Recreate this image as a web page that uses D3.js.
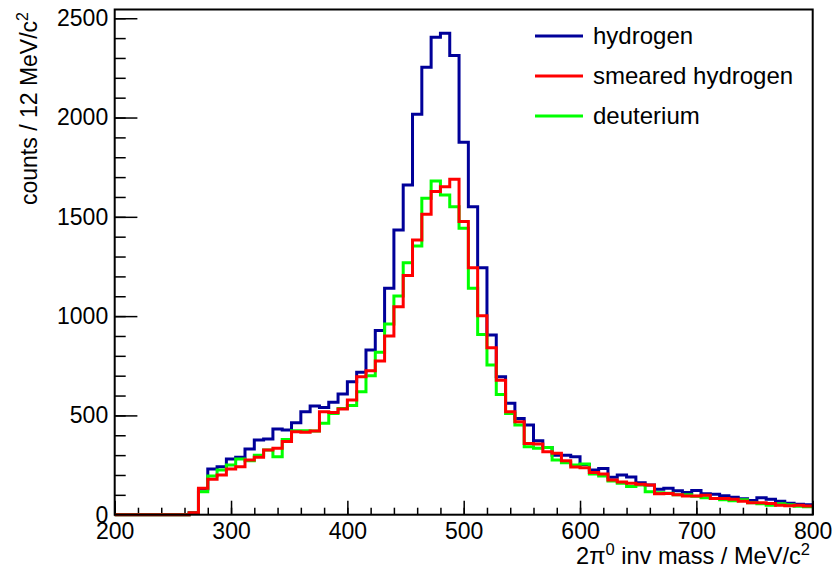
<!DOCTYPE html>
<html>
<head>
<meta charset="utf-8">
<script src="https://cdn.jsdelivr.net/npm/d3@7"></script>
<style>
  body { margin: 0; background: #fff; }
  svg { display: block; }
</style>
</head>
<body>
<svg width="835" height="572"></svg>
<script>
// bins: 8 MeV wide from 200 to 800
var binStart = 200, binEnd = 800, binWidth = 8;

var hydrogen = [0, 0, 0, 0, 0, 0, 0, 0,
    10, 130, 230, 242, 280, 289, 331, 376, 381, 431, 426, 463, 518, 548, 540, 566, 608, 670, 717, 829,
    927, 1140, 1434, 1660, 2016, 2253, 2404, 2424, 2312, 1875, 1551, 1244, 905, 695, 561, 485, 452, 373,
    339, 300, 300, 292, 253, 225, 233, 188, 200, 190, 161, 150, 128, 133, 120, 112, 122, 105, 103, 95,
    88, 80, 72, 85, 78, 68, 58, 52, 50];

var smeared = [0, 0, 0, 0, 0, 0, 0, 0,
    10, 133, 178, 200, 230, 242, 275, 289, 326, 334, 368, 418, 415, 421, 518, 515, 532, 578, 695, 725,
    774, 900, 1047, 1204, 1383, 1513, 1627, 1652, 1689, 1476, 1244, 1002, 841, 677, 519, 468, 359, 356,
    317, 309, 272, 240, 237, 212, 205, 175, 165, 158, 153, 150, 105, 107, 100, 94, 94, 98, 82, 82,
    78, 68, 60, 60, 57, 48, 45, 48, 44];

var deuterium = [0, 0, 0, 0, 0, 0, 0, 0,
    8, 116, 195, 225, 250, 280, 272, 300, 326, 292, 379, 423, 423, 421, 460, 510, 535, 550, 619, 700,
    818, 960, 1101, 1269, 1353, 1593, 1680, 1610, 1551, 1442, 1140, 908, 754, 605, 510, 452, 342, 334,
    339, 275, 262, 250, 255, 205, 195, 170, 158, 142, 150, 115, 110, 108, 100, 100, 93, 85, 82, 75,
    70, 75, 60, 55, 48, 55, 50, 42, 40];

var xTicks = [200, 300, 400, 500, 600, 700, 800];
var yTicks = [0, 500, 1000, 1500, 2000, 2500];

var legendNames = ["hydrogen", "smeared hydrogen", "deuterium"];
var colors = { hydrogen: "#000099", smeared: "#ff0000", deuterium: "#00ff00" };

var svg = d3.select("svg");
var font = "'Liberation Sans', Arial, Helvetica, sans-serif";

var x = d3.scaleLinear().domain([binStart, binEnd]).range([114.7, 812.7]);
var y = d3.scaleLinear().domain([0, 2544]).range([514.7, 9.5]);

var edges = d3.range(binStart, binEnd, binWidth);

function stepPoints(vals) {
    var pts = edges.map(function (e, i) { return [e, vals[i]]; });
    pts.push([binEnd, vals[vals.length - 1]]);
    return pts;
}

var line = d3.line()
    .x(function (d) { return x(d[0]); })
    .y(function (d) { return y(d[1]); })
    .curve(d3.curveStepAfter);

// minor ticks first
svg.append("g")
    .attr("transform", "translate(0," + y(0) + ")")
    .call(d3.axisBottom(x).tickValues(d3.range(200, 801, 20)).tickSize(-7).tickFormat(""))
    .call(function (g) { g.select(".domain").remove(); })
    .selectAll("line").attr("stroke", "#000").attr("stroke-width", 1.5);

svg.append("g")
    .attr("transform", "translate(" + x(binStart) + ",0)")
    .call(d3.axisLeft(y).tickValues(d3.range(0, 2501, 100)).tickSize(-11).tickFormat(""))
    .call(function (g) { g.select(".domain").remove(); })
    .selectAll("line").attr("stroke", "#000").attr("stroke-width", 1.5);

// major ticks + labels
var xAxis = svg.append("g")
    .attr("transform", "translate(0," + y(0) + ")")
    .call(d3.axisBottom(x).tickValues(xTicks).tickSize(-14).tickPadding(8).tickFormat(d3.format("d")));
xAxis.select(".domain").remove();
xAxis.selectAll("line").attr("stroke", "#000").attr("stroke-width", 1.5);
xAxis.selectAll("text").attr("font-family", font).attr("font-size", 23).attr("fill", "#000");

var yAxis = svg.append("g")
    .attr("transform", "translate(" + x(binStart) + ",0)")
    .call(d3.axisLeft(y).tickValues(yTicks).tickSize(-22.7).tickPadding(6.5).tickFormat(d3.format("d")));
yAxis.select(".domain").remove();
yAxis.selectAll("line").attr("stroke", "#000").attr("stroke-width", 1.5);
yAxis.selectAll("text").attr("font-family", font).attr("font-size", 23).attr("fill", "#000");

// histograms
var series = [
    { key: "hydrogen", vals: hydrogen },
    { key: "deuterium", vals: deuterium },
    { key: "smeared", vals: smeared }
];
svg.append("g").selectAll("path")
    .data(series)
    .enter()
    .append("path")
    .attr("d", function (d) { return line(stepPoints(d.vals)); })
    .attr("fill", "none")
    .attr("stroke", function (d) { return colors[d.key]; })
    .attr("stroke-width", 3);

// frame
svg.append("rect")
    .attr("x", x(binStart)).attr("y", y(2544))
    .attr("width", x(binEnd) - x(binStart)).attr("height", y(0) - y(2544))
    .attr("fill", "none").attr("stroke", "#000").attr("stroke-width", 2);

// axis titles
var xt = svg.append("text")
    .attr("x", 810).attr("y", 564)
    .attr("text-anchor", "end")
    .attr("font-family", font).attr("font-size", 23.6);
xt.append("tspan").text("2\u03c0");
xt.append("tspan").attr("dy", -9).attr("font-size", 16.5).text("0");
xt.append("tspan").attr("dy", 9).text(" inv mass / MeV/c");
xt.append("tspan").attr("dy", -9).attr("font-size", 16.5).text("2");

var yt = svg.append("text")
    .attr("transform", "translate(37,12) rotate(-90)")
    .attr("text-anchor", "end")
    .attr("font-family", font).attr("font-size", 23);
yt.append("tspan").text("counts / 12 MeV/c");
yt.append("tspan").attr("dy", -9).attr("font-size", 16).text("2");

// legend
var legendKeys = ["hydrogen", "smeared", "deuterium"];
var legend = svg.append("g").attr("class", "legend");
legendKeys.forEach(function (k, i) {
    var ly = 36 + i * 40;
    legend.append("line")
        .attr("x1", 535).attr("x2", 583).attr("y1", ly).attr("y2", ly)
        .attr("stroke", colors[k]).attr("stroke-width", 3);
    legend.append("text")
        .attr("x", 593).attr("y", ly + 8)
        .attr("font-family", font).attr("font-size", 24)
        .text(legendNames[i]);
});
</script>
</body>
</html>
